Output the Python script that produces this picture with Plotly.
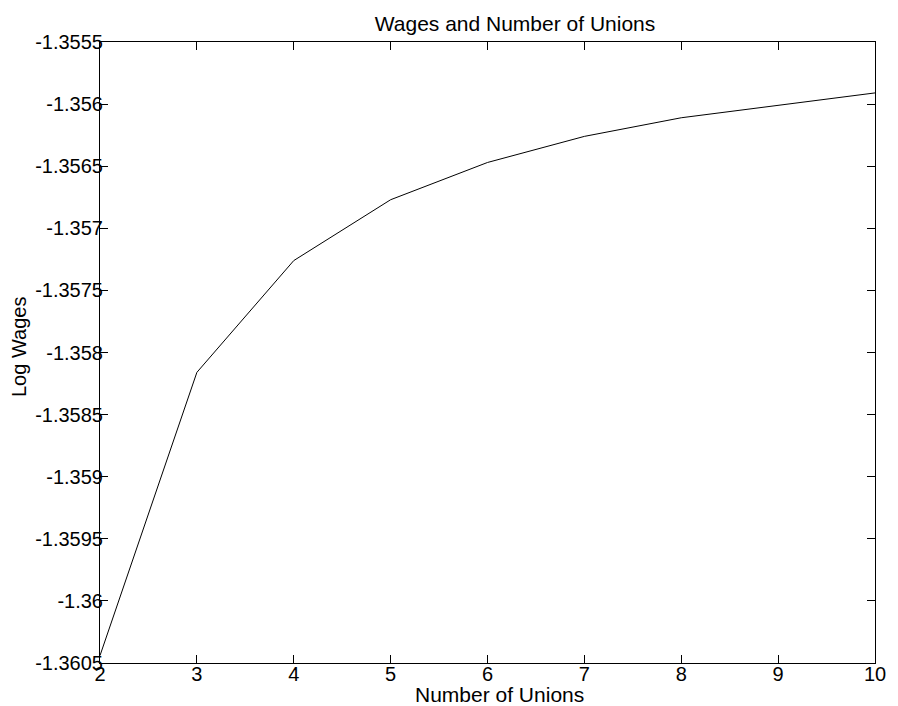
import plotly.graph_objects as go

unions = [2, 3, 4, 5, 6, 7, 8, 9, 10]
log_wages = [-1.36044, -1.35816, -1.35726, -1.35677, -1.35647, -1.35626, -1.35611, -1.35601, -1.35591]

x_ticks = [2, 3, 4, 5, 6, 7, 8, 9, 10]
y_tick_vals = [-1.3555, -1.356, -1.3565, -1.357, -1.3575, -1.358, -1.3585, -1.359, -1.3595, -1.36, -1.3605]
y_tick_text = ["-1.3555", "-1.356", "-1.3565", "-1.357", "-1.3575", "-1.358", "-1.3585", "-1.359", "-1.3595", "-1.36", "-1.3605"]

FONT = "Liberation Sans, Arial, Helvetica, sans-serif"
W, H = 898, 706
L, R, T, B = 100, 13, 42, 43
PW, PH = W - L - R, H - T - B

fig = go.Figure()
fig.add_trace(go.Scatter(x=unions, y=log_wages, mode="lines",
                         line=dict(color="black", width=1), showlegend=False,
                         cliponaxis=False))

axis_common = dict(showline=True, linecolor="black", linewidth=1, mirror="ticks",
                   ticks="inside", ticklen=8, tickcolor="black", tickwidth=1,
                   showgrid=False, zeroline=False,
                   tickfont=dict(family=FONT, size=20, color="black"))

fig.update_layout(
    width=W, height=H,
    margin=dict(l=L, r=R, t=T, b=B),
    paper_bgcolor="white", plot_bgcolor="white",
    font=dict(family=FONT, size=20, color="black"),
    title=dict(text="Wages and Number of Unions", x=515/W, xanchor="center",
               y=1 - 31/H, yanchor="bottom", yref="container",
               font=dict(family=FONT, size=21, color="black")),
    xaxis=dict(range=[2, 10], tickvals=x_ticks, ticktext=[str(v) for v in x_ticks],
               ticklabelstandoff=-7,
               **axis_common),
    yaxis=dict(range=[-1.3605, -1.3555], tickvals=y_tick_vals, ticktext=y_tick_text,
               ticklabelstandoff=-8,
               **axis_common),
    annotations=[
        dict(text="Number of Unions", xref="paper", yref="paper",
             x=(505 - L)/PW, y=(H - B - 694)/PH, xanchor="center", yanchor="middle",
             showarrow=False, borderpad=0,
             font=dict(family=FONT, size=21, color="black")),
        dict(text="Log Wages", xref="paper", yref="paper", textangle=-90,
             x=(18 - L)/PW, y=(H - B - 347)/PH, xanchor="center", yanchor="middle",
             showarrow=False, borderpad=0,
             font=dict(family=FONT, size=20, color="black")),
    ],
)

fig.write_html("out.html")
